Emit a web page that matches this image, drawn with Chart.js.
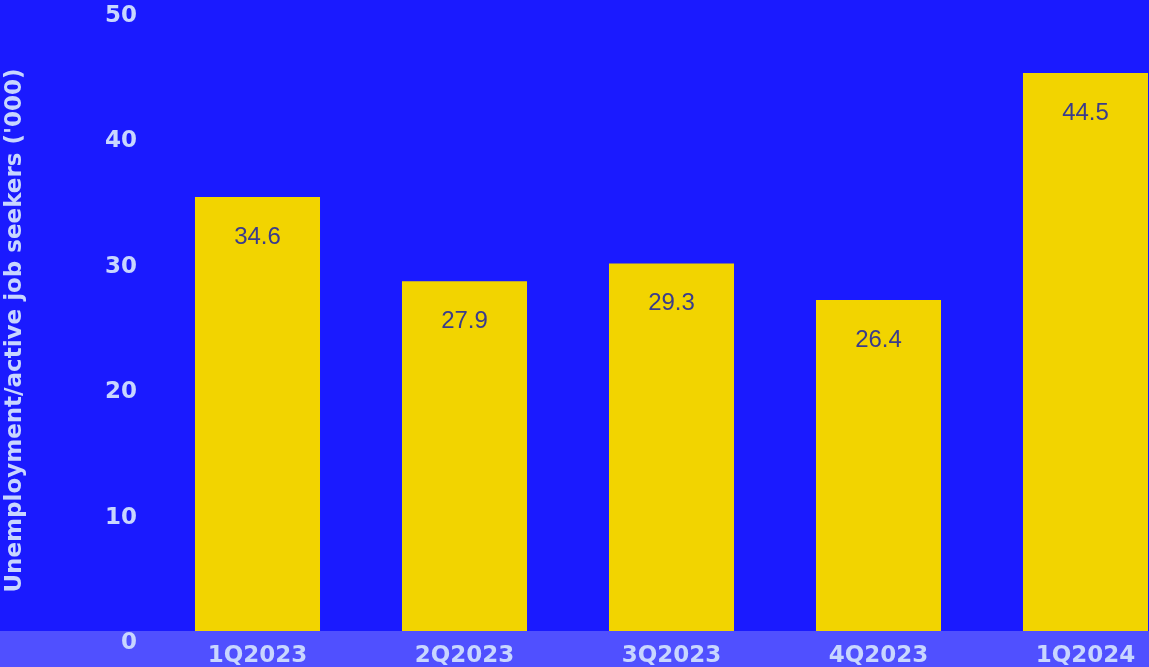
<!DOCTYPE html>
<html>
<head>
<meta charset="utf-8">
<script src="https://cdn.jsdelivr.net/npm/chart.js@4.4.1/dist/chart.umd.min.js"></script>
<style>
  html, body { margin: 0; padding: 0; background: #1a1aff; overflow: hidden; }
  #wrap { width: 1200px; height: 667px; }
</style>
</head>
<body>
<div id="wrap"><canvas id="c" width="1200" height="667"></canvas></div>
<script>
// Quarterly unemployment / active job seekers, in thousands
const quarters = ['1Q2023', '2Q2023', '3Q2023', '4Q2023', '1Q2024'];
const seekers = [34.6, 27.9, 29.3, 26.4, 44.5];
const yTicks = [0, 10, 20, 30, 40, 50];
const yTitle = "Unemployment/active job seekers ('000)";

const BG = '#1a1aff';
const STRIP = '#5050ff';
const BAR = '#f2d400';
const AXIS_TEXT = '#c8d6ff';
const LABEL_TEXT = '#3a3c8c';
const AXIS_FONT = '"DejaVu Sans", sans-serif';

// Paint the background and the lighter band under the plot area
const backdrop = {
  id: 'backdrop',
  beforeDraw(chart) {
    const { ctx, chartArea, width, height } = chart;
    ctx.save();
    ctx.fillStyle = BG;
    ctx.fillRect(0, 0, width, height);
    ctx.fillStyle = STRIP;
    ctx.fillRect(0, chartArea.bottom, width, height - chartArea.bottom);
    ctx.restore();
  }
};

// Rotated y-axis title, sitting a little below the middle of the plot height
const axisTitle = {
  id: 'axisTitle',
  afterDraw(chart) {
    const { ctx, chartArea } = chart;
    ctx.save();
    ctx.translate(15, (chartArea.top + chartArea.bottom) / 2 + 13);
    ctx.rotate(-Math.PI / 2);
    ctx.font = 'bold 23px ' + AXIS_FONT;
    ctx.fillStyle = AXIS_TEXT;
    ctx.textAlign = 'center';
    ctx.textBaseline = 'middle';
    ctx.fillText(yTitle, 0, 0);
    ctx.restore();
  }
};

// Value text placed inside each bar, just below its top
const valueLabels = {
  id: 'valueLabels',
  afterDatasetsDraw(chart) {
    const { ctx } = chart;
    const meta = chart.getDatasetMeta(0);
    ctx.save();
    ctx.font = '24px "Liberation Sans", Arial, sans-serif';
    ctx.fillStyle = LABEL_TEXT;
    ctx.textAlign = 'center';
    ctx.textBaseline = 'middle';
    meta.data.forEach((bar, i) => {
      ctx.fillText(seekers[i].toFixed(1), bar.x, bar.y + 40);
    });
    ctx.restore();
  }
};

new Chart(document.getElementById('c'), {
  type: 'bar',
  data: {
    labels: quarters,
    datasets: [{
      data: seekers,
      backgroundColor: BAR,
      borderWidth: 0,
      categoryPercentage: 1.0,
      barPercentage: 0.604
    }]
  },
  options: {
    responsive: false,
    animation: false,
    layout: { padding: { top: 4, right: 11, bottom: 0, left: 0 } },
    plugins: { legend: { display: false }, tooltip: { enabled: false } },
    scales: {
      x: {
        grid: { display: false, drawTicks: false },
        border: { display: false },
        ticks: {
          color: AXIS_TEXT,
          padding: 11,
          maxRotation: 0,
          font: { family: AXIS_FONT, weight: 'bold', size: 23 }
        },
        afterFit(scale) {
          scale.height = 36;
          scale.paddingLeft = 0;
          scale.paddingRight = 0;
        }
      },
      y: {
        min: 0,
        max: 50,
        grid: { display: false, drawTicks: false },
        border: { display: false },
        afterBuildTicks(scale) { scale.ticks = yTicks.map(v => ({ value: v })); },
        ticks: {
          color: AXIS_TEXT,
          padding: 17,
          labelOffset: 12,
          font: { family: AXIS_FONT, weight: 'bold', size: 23 }
        },
        afterFit(scale) {
          scale.width = 154;
          scale.paddingTop = 0;
          scale.paddingBottom = 0;
        }
      }
    }
  },
  plugins: [backdrop, valueLabels, axisTitle]
});
</script>
</body>
</html>
